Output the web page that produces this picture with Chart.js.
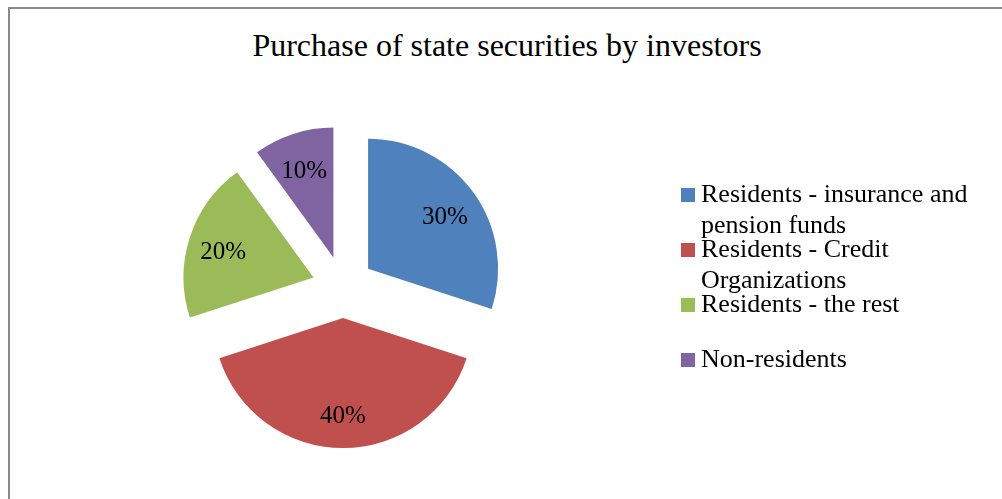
<!DOCTYPE html>
<html>
<head>
<meta charset="utf-8">
<script src="https://cdn.jsdelivr.net/npm/chart.js@4.4.0/dist/chart.umd.min.js"></script>
<style>
  html, body { margin: 0; padding: 0; background: #fff; }
  body { width: 1002px; height: 499px; position: relative; overflow: hidden; font-family: "Liberation Serif", "Times New Roman", serif; }
  #frame { position: absolute; left: 8px; top: 7px; width: 1100px; height: 600px; border-left: 2px solid #8a8a8a; border-top: 2px solid #8a8a8a; }
  #chart { position: absolute; left: 0; top: 0; }
  #title { position: absolute; left: 8px; width: 998px; top: 26px; line-height: 38px; font-size: 32px; text-align: center; color: #000; }
  .item { position: absolute; left: 681px; width: 310px; }
  .item .box { position: absolute; left: 0; top: 10px; width: 14px; height: 14px; }
  .item .txt { position: absolute; left: 20px; top: 0; width: 290px; font-size: 26px; line-height: 31px; color: #000; }
</style>
</head>
<body>
<div id="frame"></div>
<div id="title">Purchase of state securities by investors</div>
<canvas id="chart" width="1002" height="499"></canvas>
<div id="legend"></div>
<script>
const labels = [
  'Residents - insurance and pension funds',
  'Residents - Credit Organizations',
  'Residents - the rest',
  'Non-residents'
];
const shares = [30, 40, 20, 10];
const colors = ['#4F81BD', '#C0504D', '#9BBB59', '#8064A2'];

const EXPLODE = 31;      // px each slice is pulled out
const LABEL_POS = 0.73;  // label distance as part of radius

// legend, Excel style (wrapped lines run into the next item)
const legendEl = document.getElementById('legend');
labels.forEach((name, i) => {
  const item = document.createElement('div');
  item.className = 'item';
  item.style.top = (178 + i * 55) + 'px';
  item.innerHTML = '<div class="box" style="background:' + colors[i] + '"></div><div class="txt">' + name + '</div>';
  legendEl.appendChild(item);
});

// draw each arc shifted out along its middle angle, then the % labels
const explodePlugin = {
  id: 'explode',
  beforeDatasetDraw(chart, args) {
    const ctx = chart.ctx;
    args.meta.data.forEach(arc => {
      const mid = (arc.startAngle + arc.endAngle) / 2;
      ctx.save();
      ctx.translate(Math.cos(mid) * EXPLODE, Math.sin(mid) * EXPLODE);
      arc.draw(ctx);
      ctx.restore();
    });
    return false;
  },
  afterDatasetsDraw(chart) {
    const ctx = chart.ctx;
    const meta = chart.getDatasetMeta(0);
    const data = chart.data.datasets[0].data;
    const total = data.reduce((a, b) => a + b, 0);
    ctx.save();
    ctx.font = '25px "Liberation Serif"';
    ctx.fillStyle = '#000';
    ctx.textAlign = 'center';
    ctx.textBaseline = 'middle';
    meta.data.forEach((arc, i) => {
      const mid = (arc.startAngle + arc.endAngle) / 2;
      const d = EXPLODE + arc.outerRadius * LABEL_POS;
      const pct = Math.round(data[i] / total * 100) + '%';
      ctx.fillText(pct, arc.x + Math.cos(mid) * d, arc.y + Math.sin(mid) * d + 4);
    });
    ctx.restore();
  }
};

new Chart(document.getElementById('chart').getContext('2d'), {
  type: 'pie',
  data: {
    labels,
    datasets: [{
      data: shares,
      backgroundColor: colors,
      borderWidth: 0
    }]
  },
  options: {
    responsive: false,
    animation: false,
    layout: { padding: { left: 213, right: 529, top: 157, bottom: 82 } },
    plugins: {
      legend: { display: false },
      title: { display: false },
      tooltip: { enabled: false }
    }
  },
  plugins: [explodePlugin]
});
</script>
</body>
</html>
